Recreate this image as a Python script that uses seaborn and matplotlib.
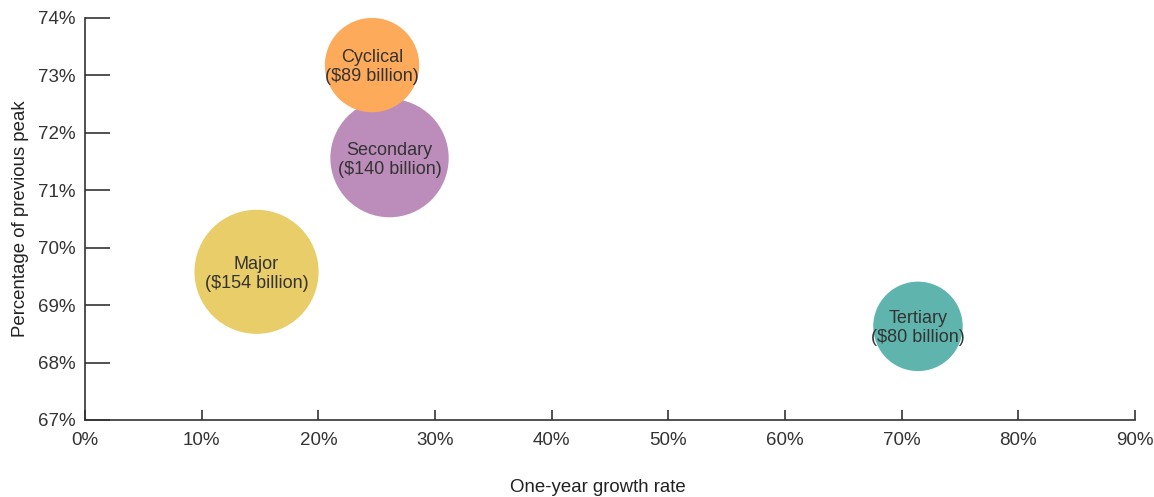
import matplotlib
matplotlib.use("Agg")
import matplotlib.pyplot as plt
import pandas as pd
import seaborn as sns
from matplotlib.ticker import FuncFormatter

# values
segments = ['Major', 'Secondary', 'Cyclical', 'Tertiary']
growth = [14.7, 26.1, 24.6, 71.4]          # one-year growth rate, %
peak_pct = [69.58, 71.56, 73.18, 68.63]   # percentage of previous peak
size_bn = [154, 140, 89, 80]              # $ billion
colors = ['#E8CD68', '#BC8CBA', '#FDAA5B', '#5FB5AD']

df = pd.DataFrame({'segment': segments, 'growth': growth,
                   'peak': peak_pct, 'size': size_bn})

sns.set_style('white')
plt.rcParams['font.family'] = ['Liberation Sans', 'DejaVu Sans']

fig = plt.figure(figsize=(11.54, 4.97), dpi=100)
ax = fig.add_axes([0.0737, 0.155, 0.9098, 0.8088])

# bubble area proportional to $ size
k = 51.84
sns.scatterplot(data=df, x='growth', y='peak', hue='segment', palette=colors,
                size='size', sizes=(k * min(size_bn), k * max(size_bn)),
                linewidth=0, alpha=1, legend=False, ax=ax)

for seg, gx, py, sb in zip(segments, growth, peak_pct, size_bn):
    ax.text(gx, py - 0.03, f'{seg}\n(${sb} billion)', ha='center', va='center',
            fontsize=13, color='#333333', linespacing=1.15)

ax.set_xlim(0, 90)
ax.set_ylim(67, 74)
ax.set_xticks(range(0, 91, 10))
ax.set_yticks(range(67, 75))
ax.xaxis.set_major_formatter(FuncFormatter(lambda v, p: f'{v:.0f}%'))
ax.yaxis.set_major_formatter(FuncFormatter(lambda v, p: f'{v:.0f}%'))

sns.despine(ax=ax)
for s in ['left', 'bottom']:
    ax.spines[s].set_color('#333333')
    ax.spines[s].set_linewidth(1.2)

ax.tick_params(axis='y', direction='in', length=18, width=1.2, color='#333333',
               labelsize=13.5, labelcolor='#333333', pad=7, left=True)
ax.tick_params(axis='x', direction='in', length=7, width=1.2, color='#333333',
               labelsize=13.5, labelcolor='#333333', pad=9, bottom=True)

ax.set_xlabel('One-year growth rate', fontsize=13.4, color='#222222')
ax.set_ylabel('Percentage of previous peak', fontsize=13.4, color='#222222')
ax.xaxis.set_label_coords(0.4886, -0.146)
ax.yaxis.set_label_coords(-0.053, 0.5)

fig.savefig('out.png', dpi=100)
